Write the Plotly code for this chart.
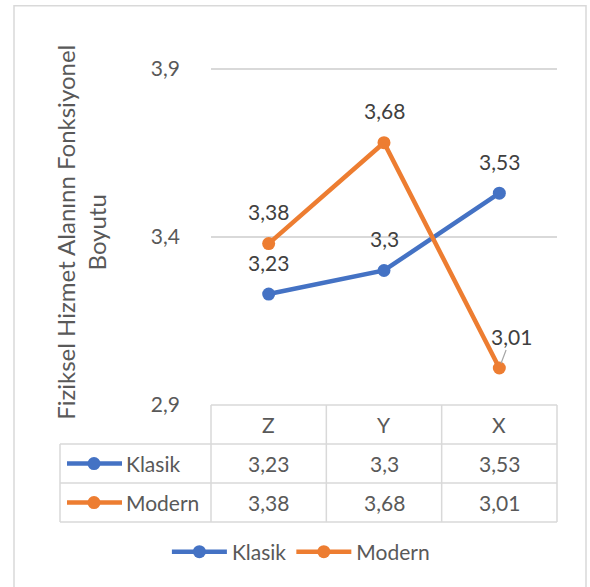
import plotly.graph_objects as go

categories = ["Z", "Y", "X"]
klasik = [3.23, 3.30, 3.53]
modern = [3.38, 3.68, 3.01]
series_names = ["Klasik", "Modern"]
y_ticks = [2.9, 3.4, 3.9]
y_title = "Fiziksel Hizmet Alanınn Fonksiyonel<br>Boyutu"

BLUE = "#4472C4"
ORANGE = "#ED7D31"
GRID = "#D9D9D9"
TXT = "#595959"
LBL = "#404040"
FONT = "Lato"
FS = 21

W, H = 590, 587
UNIT_PX = 336.0  # px per 1.0 on the value axis
Y_PAD = 0.02
L, R = 211, 33
B = 182
T = 69 - Y_PAD * UNIT_PX
PW, PH = W - L - R, H - T - B
BASE = T + PH  # pixel row of the axis bottom (405)


def fmt(v):
    return ("%g" % v).replace(".", ",")


def px_x(px):
    return (px - L) / PW


def px_y(py):
    return (BASE - py) / PH


xs = list(range(len(categories)))
fig = go.Figure()
for name, vals, col in [(series_names[0], klasik, BLUE), (series_names[1], modern, ORANGE)]:
    fig.add_trace(go.Scatter(
        x=xs, y=vals, name=name, mode="lines+markers",
        line=dict(color=col, width=4.5),
        marker=dict(color=col, size=13),
        cliponaxis=False,
    ))

annotations = []
shapes = []

# data labels
for s, vals in enumerate((klasik, modern)):
    for i, v in enumerate(vals):
        if s == 1 and i == 2:
            annotations.append(dict(
                x=i, y=v, xref="x", yref="y", text=fmt(v), showarrow=True,
                ax=12, ay=-32, arrowhead=0, arrowwidth=1.2, arrowcolor="#A6A6A6",
                standoff=5, xanchor="center", yanchor="middle",
                font=dict(family=FONT, size=FS, color=LBL)))
        else:
            annotations.append(dict(
                x=i, y=v, xref="x", yref="y", text=fmt(v), showarrow=False,
                yshift=32, font=dict(family=FONT, size=FS, color=LBL)))

# y-axis title
annotations.append(dict(
    x=px_x(81), y=px_y(233), xref="paper", yref="paper", text=y_title,
    textangle=-90, showarrow=False, xanchor="center", yanchor="middle",
    font=dict(family=FONT, size=24, color=TXT)))

# data table
row_h = 39
rows_y = [BASE, BASE + row_h, BASE + 2 * row_h, BASE + 3 * row_h]
left_x = 60
cell_edges = [L + PW * k / len(categories) for k in range(len(categories) + 1)]
line_style = dict(color=GRID, width=1.5)

shapes.append(dict(type="line", xref="paper", yref="paper",
                   x0=0, x1=1, y0=px_y(rows_y[0]), y1=px_y(rows_y[0]), line=line_style))
for ry in rows_y[1:]:
    shapes.append(dict(type="line", xref="paper", yref="paper",
                       x0=px_x(left_x), x1=1, y0=px_y(ry), y1=px_y(ry), line=line_style))
shapes.append(dict(type="line", xref="paper", yref="paper",
                   x0=px_x(left_x), x1=px_x(left_x), y0=px_y(rows_y[1]), y1=px_y(rows_y[3]),
                   line=line_style))
for ex in cell_edges:
    shapes.append(dict(type="line", xref="paper", yref="paper",
                       x0=px_x(ex), x1=px_x(ex), y0=px_y(rows_y[0]), y1=px_y(rows_y[3]),
                       line=line_style))

for i, c in enumerate(categories):
    annotations.append(dict(x=i, y=px_y(rows_y[0] + row_h / 2), xref="x", yref="paper",
                            text=c, showarrow=False, xanchor="center", yanchor="middle",
                            font=dict(family=FONT, size=FS, color=TXT)))
for r, (name, vals, col) in enumerate([(series_names[0], klasik, BLUE), (series_names[1], modern, ORANGE)]):
    cy = rows_y[r + 1] + row_h / 2
    for i, v in enumerate(vals):
        annotations.append(dict(x=i, y=px_y(cy), xref="x", yref="paper",
                                text=fmt(v), showarrow=False, xanchor="center", yanchor="middle",
                                font=dict(family=FONT, size=FS, color=TXT)))
    shapes.append(dict(type="line", xref="paper", yref="paper",
                       x0=px_x(67), x1=px_x(122), y0=px_y(cy), y1=px_y(cy),
                       line=dict(color=col, width=4.5)))
    shapes.append(dict(type="circle", xref="paper", yref="paper",
                       x0=px_x(94 - 6.5), x1=px_x(94 + 6.5), y0=px_y(cy - 6.5), y1=px_y(cy + 6.5),
                       fillcolor=col, line=dict(color=col, width=0)))
    annotations.append(dict(x=px_x(124), y=px_y(cy), xref="paper", yref="paper",
                            text=name, showarrow=False, xanchor="left", yanchor="middle",
                            font=dict(family=FONT, size=FS, color=TXT)))

# outer chart border
shapes.append(dict(type="rect", xref="paper", yref="paper",
                   x0=px_x(14), x1=px_x(586), y0=px_y(6), y1=px_y(600),
                   line=dict(color=GRID, width=1.5), layer="below"))

fig.update_layout(
    width=W, height=H, autosize=False,
    margin=dict(l=L, r=R, t=T, b=B, pad=0),
    paper_bgcolor="white", plot_bgcolor="white",
    font=dict(family=FONT, size=FS, color=TXT),
    xaxis=dict(range=[-0.5, len(categories) - 0.5], showticklabels=False, showgrid=False,
               zeroline=False, showline=False, fixedrange=True),
    yaxis=dict(range=[y_ticks[0], y_ticks[-1] + Y_PAD], tickvals=y_ticks,
               ticktext=[fmt(v) for v in y_ticks], showgrid=True, gridcolor=GRID,
               gridwidth=1.5, zeroline=False, showline=False, ticks="",
               ticklabelstandoff=30, tickfont=dict(family=FONT, size=FS, color=TXT),
               fixedrange=True),
    showlegend=True,
    legend=dict(orientation="h", xref="container", yref="container", x=0.51, y=1 - 552 / H,
                xanchor="center", yanchor="middle", itemwidth=55,
                font=dict(family=FONT, size=FS, color=TXT), bgcolor="rgba(0,0,0,0)"),
    annotations=annotations,
    shapes=shapes,
)

fig.write_html("out.html")
